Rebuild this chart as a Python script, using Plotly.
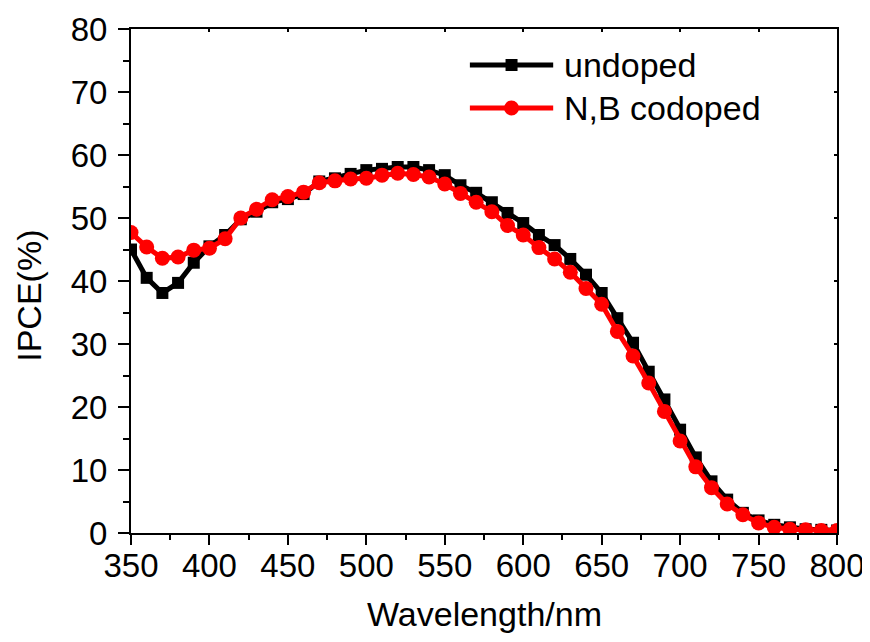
import plotly.graph_objects as go

wavelength = list(range(350, 801, 10))
undoped = [45.0, 40.5, 38.1, 39.7, 42.9, 45.5, 47.3, 49.8, 51.0, 52.5,
           53.0, 53.8, 55.8, 56.3, 57.0, 57.6, 57.8, 58.1, 58.1, 57.6,
           56.8, 55.2, 54.0, 52.5, 50.8, 49.2, 47.3, 45.7, 43.5, 41.0,
           38.1, 34.1, 30.2, 25.6, 21.2, 16.4, 12.0, 8.2, 5.3, 3.2,
           2.0, 1.3, 0.9, 0.6, 0.5, 0.4]
codoped = [47.7, 45.4, 43.6, 43.8, 44.9, 45.2, 46.7, 50.0, 51.4, 52.9,
           53.4, 54.1, 55.6, 55.9, 56.2, 56.3, 56.8, 57.1, 56.9, 56.5,
           55.4, 53.9, 52.5, 51.0, 48.8, 47.3, 45.3, 43.5, 41.4, 38.8,
           36.3, 32.0, 28.1, 23.8, 19.3, 14.6, 10.5, 7.2, 4.6, 2.9,
           1.6, 0.9, 0.6, 0.5, 0.4, 0.4]
series_names = ["undoped", "N,B codoped"]
series_colors = ["black", "#ff0000"]

FONT = "Liberation Sans, Arial, sans-serif"

fig = go.Figure()
fig.add_trace(go.Scatter(x=wavelength, y=undoped, name=series_names[0], mode="lines+markers",
                         line=dict(color=series_colors[0], width=5), showlegend=False,
                         marker=dict(symbol="square", size=12, color=series_colors[0])))
fig.add_trace(go.Scatter(x=wavelength, y=codoped, name=series_names[1], mode="lines+markers",
                         line=dict(color=series_colors[1], width=5), showlegend=False,
                         marker=dict(symbol="circle", size=15, color=series_colors[1])))
# transparent trace to activate the mirrored (top/right) axes
fig.add_trace(go.Scatter(x=wavelength, y=undoped, xaxis="x2", yaxis="y2", mode="lines",
                         line=dict(color="rgba(0,0,0,0)", width=0), showlegend=False,
                         hoverinfo="skip"))

common = dict(showgrid=False, zeroline=False, linecolor="black", linewidth=2,
              tickcolor="black", tickwidth=2, automargin=False)

# page body has an 8px margin, so the figure is sized to fit the window
fig.update_layout(
    width=862, height=634,
    margin=dict(l=123, r=33, t=21, b=109),
    paper_bgcolor="white", plot_bgcolor="white",
    font=dict(family=FONT, size=33, color="black"),
    showlegend=False,
    xaxis=dict(range=[350, 800], tickmode="linear", tick0=350, dtick=50,
               ticks="outside", ticklen=10, ticklabelstandoff=-8,
               minor=dict(ticks="outside", dtick=25, ticklen=5, tickcolor="black", tickwidth=2),
               tickfont=dict(size=33), **common),
    yaxis=dict(range=[0, 80], tickmode="linear", tick0=0, dtick=10,
               ticks="outside", ticklen=11, ticklabelstandoff=4,
               minor=dict(ticks="outside", dtick=5, ticklen=6, tickcolor="black", tickwidth=2),
               tickfont=dict(size=33), **common),
    xaxis2=dict(range=[350, 800], overlaying="x", side="top", anchor="y2",
                tickmode="linear", tick0=350, dtick=50, ticks="inside", ticklen=3,
                showticklabels=False, **common),
    yaxis2=dict(range=[0, 80], overlaying="y", side="right", anchor="x2",
                tickmode="linear", tick0=0, dtick=10, ticks="inside", ticklen=3,
                showticklabels=False, **common),
)

# axis titles
fig.add_annotation(text="Wavelength/nm", xref="paper", yref="paper", x=0.5, y=-0.16,
                   xanchor="center", yanchor="middle", showarrow=False,
                   font=dict(size=34, family=FONT))
fig.add_annotation(text="IPCE(%)", xref="paper", yref="paper", x=-0.145, y=0.47,
                   xanchor="center", yanchor="middle", showarrow=False, textangle=-90,
                   font=dict(size=34, family=FONT))

# legend (drawn manually to match sample length/spacing)
leg_x0, leg_x1, leg_xm, leg_tx = 0.480, 0.598, 0.539, 0.610
leg_y = [0.9286, 0.8433]
symbols = ["rect", "circle"]
sizes = [6, 7.5]
for i in range(2):
    fig.add_shape(type="line", xref="paper", yref="paper", x0=leg_x0, x1=leg_x1,
                  y0=leg_y[i], y1=leg_y[i], line=dict(color=series_colors[i], width=5))
    fig.add_shape(type=symbols[i], xref="paper", yref="paper",
                  xsizemode="pixel", ysizemode="pixel", xanchor=leg_xm, yanchor=leg_y[i],
                  x0=-sizes[i], x1=sizes[i], y0=-sizes[i], y1=sizes[i],
                  fillcolor=series_colors[i], line=dict(width=0))
    fig.add_annotation(text=series_names[i], xref="paper", yref="paper", x=leg_tx, y=leg_y[i],
                       xanchor="left", yanchor="middle", showarrow=False,
                       font=dict(size=34, family=FONT))

fig.write_html("out.html")
